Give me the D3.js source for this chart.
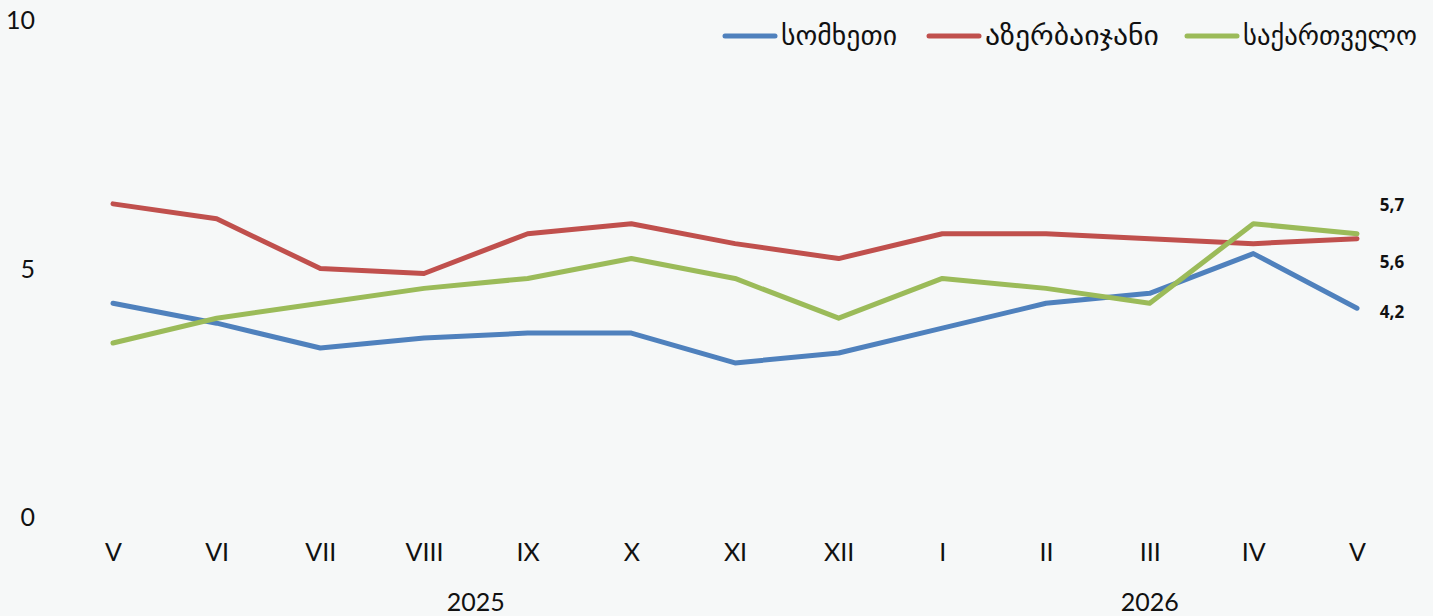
<!DOCTYPE html>
<html><head><meta charset="utf-8">
<script src="https://cdn.jsdelivr.net/npm/d3@7"></script>
<style>
html,body{margin:0;padding:0;background:#f6f8f8;}
svg{display:block;}
</style></head>
<body>
<svg id="c" width="1433" height="616"></svg>
<script>
const months = ["V","VI","VII","VIII","IX","X","XI","XII","I","II","III","IV","V"];
const years = [{label:"2025", from:0, to:7},{label:"2026", from:8, to:12}];
const armenia    = [4.3,3.9,3.4,3.6,3.7,3.7,3.1,3.3,3.8,4.3,4.5,5.3,4.2];
const azerbaijan = [6.3,6.0,5.0,4.9,5.7,5.9,5.5,5.2,5.7,5.7,5.6,5.5,5.6];
const georgia    = [3.5,4.0,4.3,4.6,4.8,5.2,4.8,4.0,4.8,4.6,4.3,5.9,5.7];
const seriesNames = ["სომხეთი","აზერბაიჯანი","საქართველო"];
const yTicks = [0,5,10];
const endLabels = ["4,2","5,6","5,7"];

const colors = ["#4f81bd","#c0504d","#9bbb59"];
const series = [armenia, azerbaijan, georgia];
const svg = d3.select("#c");
const idx = months.map((d,i)=>i);
const x = d3.scalePoint().domain(idx).range([113,1357]);
const y = d3.scaleLinear().domain([0,10]).range([517,20]);
const font = "Lato,'Open Sans','Noto Sans','DejaVu Sans',sans-serif";

// y axis labels
const ya = svg.append("g").attr("transform","translate(35,0)")
  .call(d3.axisLeft(y).tickValues(yTicks).tickSize(0).tickPadding(0).tickFormat(d3.format("d")));
ya.select(".domain").remove();
ya.selectAll("text").attr("font-family",font).attr("font-size",25).attr("fill","#111").attr("dy","0.35em");

// x axis labels
const xa = svg.append("g").attr("transform","translate(0,552)")
  .call(d3.axisBottom(x).tickSize(0).tickPadding(0).tickFormat(i=>months[i]));
xa.select(".domain").remove();
xa.selectAll("text").attr("font-family",font).attr("font-size",25).attr("fill","#111").attr("dy","0.35em");

// years
svg.append("g").selectAll("text").data(years).join("text")
  .attr("x",d=>(x(d.from)+x(d.to))/2).attr("y",602).attr("dy","0.35em")
  .attr("text-anchor","middle").attr("font-family",font).attr("font-size",25).attr("fill","#111")
  .text(d=>d.label);

// lines
const line = d3.line().x((d,i)=>x(i)).y(d=>y(d));
svg.append("g").selectAll("path").data(series).join("path")
  .attr("d",line).attr("fill","none").attr("stroke",(d,i)=>colors[i])
  .attr("stroke-width",5).attr("stroke-linejoin","round").attr("stroke-linecap","round");

// end labels
const endY = [312,262,205];
svg.append("g").selectAll("text").data(endLabels).join("text")
  .attr("x",1392).attr("y",(d,i)=>endY[i]).attr("dy","0.35em").attr("text-anchor","middle")
  .attr("font-family","'Open Sans','Noto Sans',sans-serif").attr("font-size",17).attr("font-weight",700).attr("fill","#111")
  .text(d=>d);

// legend
const legX = [723,927,1185];
const legW = [116,174,174];
const lg = svg.append("g").selectAll("g").data(seriesNames).join("g")
  .attr("transform",(d,i)=>`translate(${legX[i]},36)`);
lg.append("line").attr("x1",2).attr("x2",52).attr("y1",0).attr("y2",0)
  .attr("stroke",(d,i)=>colors[i]).attr("stroke-width",5).attr("stroke-linecap","round");
lg.append("text").attr("x",58).attr("y",0).attr("dy","0.35em")
  .attr("font-family","'DejaVu Sans',sans-serif").attr("font-size",27).attr("fill","#111")
  .attr("textLength",(d,i)=>legW[i]).attr("lengthAdjust","spacingAndGlyphs")
  .text(d=>d);
</script>
</body></html>
